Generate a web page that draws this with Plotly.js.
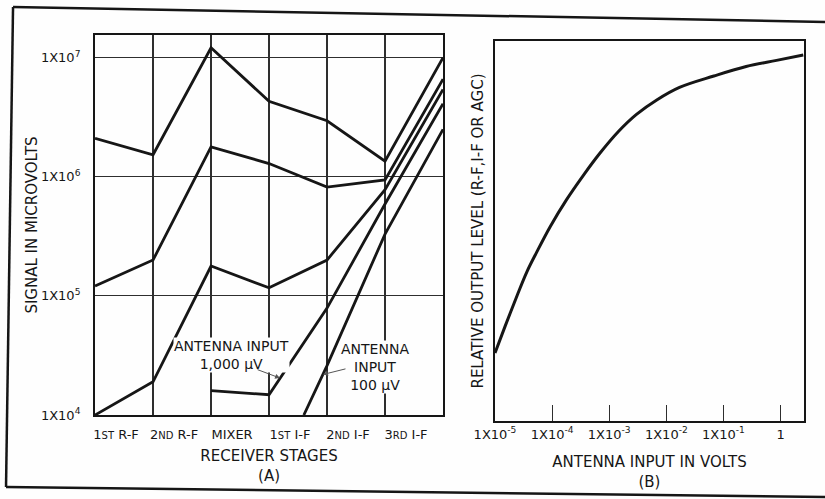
<!DOCTYPE html>
<html>
<head>
<meta charset="utf-8">
<script src="https://cdn.plot.ly/plotly-3.0.1.min.js"></script>
<style>
  html, body { margin: 0; padding: 0; background: #fefefe; }
  #chart { width: 825px; height: 499px; }
</style>
</head>
<body>
<div id="chart"></div>
<script>
// ---- Panel (A): signal level per receiver stage (microvolts) ----
const stageLabels = ['1<span style="font-size:10px">ST</span> R-F', '2<span style="font-size:10px">ND</span> R-F', 'MIXER',
                     '1<span style="font-size:10px">ST</span> I-F', '2<span style="font-size:10px">ND</span> I-F',
                     '3<span style="font-size:10px">RD</span> I-F', ''];
const stageX = [0, 1, 2, 3, 4, 5, 6];

const curveTop    = [2.1e6, 1.53e6, 1.21e7, 4.3e6, 2.95e6, 1.35e6, 1.0e7];
const curveSecond = [1.21e5, 2.0e5, 1.78e6, 1.29e6, 8.2e5, 9.4e5, 6.6e6];
const curveThird  = [1.0e4, 1.9e4, 1.78e5, 1.17e5, 2.0e5, 7.8e5, 5.4e6];

const ant1000X = [2, 3, 4, 5, 6];
const ant1000  = [1.6e4, 1.48e4, 7.9e4, 5.9e5, 4.1e6];

const ant100X = [3.6, 4, 5, 6];
const ant100  = [1.0e4, 2.6e4, 3.3e5, 2.5e6];

const yTickValsA = [1e4, 1e5, 1e6, 1e7];
const yTickTextA = ['1X10<sup>4</sup>', '1X10<sup>5</sup>', '1X10<sup>6</sup>', '1X10<sup>7</sup>'];

// ---- Panel (B): relative output level vs antenna input (volts) ----
const agcInput = [1e-5, 1.5e-5, 2.45e-5, 3.6e-5, 5.4e-5, 9.3e-5, 1.78e-4, 3.5e-4, 6.8e-4,
                  1.45e-3, 3.0e-3, 6.8e-3, 1.7e-2, 6.8e-2, 0.25, 0.85, 2.5];
const agcLevel = [17.9, 24.9, 33.1, 39.2, 44.5, 51.2, 58.2, 64.6, 70.4,
                  76.2, 80.7, 84.5, 87.8, 90.8, 93.3, 94.9, 96.3];

const xTickValsB = [1e-5, 1e-4, 1e-3, 1e-2, 1e-1, 1];
const xTickTextB = ['1X10<sup>-5</sup>', '1X10<sup>-4</sup>', '1X10<sup>-3</sup>',
                    '1X10<sup>-2</sup>', '1X10<sup>-1</sup>', '1'];

const INK = '#161616';
const GRID = '#2e2e2e';
const FONT = 'DejaVu Sans, sans-serif';

function lineTrace(x, y, xa, ya, w) {
  return { type: 'scatter', mode: 'lines', x: x, y: y, xaxis: xa, yaxis: ya,
           line: { color: INK, width: w }, hoverinfo: 'skip', showlegend: false };
}

const traces = [
  lineTrace(stageX, curveTop, 'x', 'y', 2.8),
  lineTrace(stageX, curveSecond, 'x', 'y', 2.8),
  lineTrace(stageX, curveThird, 'x', 'y', 2.8),
  lineTrace(ant1000X, ant1000, 'x', 'y', 2.8),
  lineTrace(ant100X, ant100, 'x', 'y', 2.8),
  Object.assign(lineTrace(agcInput, agcLevel, 'x2', 'y2', 3),
                { line: { color: INK, width: 3, shape: 'spline', smoothing: 1 } })
];

const axisCommon = {
  showline: true, mirror: true, linecolor: INK, linewidth: 2,
  zeroline: false, fixedrange: true,
  tickfont: { family: FONT, size: 13, color: INK }
};

const layout = {
  width: 825, height: 499,
  margin: { l: 0, r: 0, t: 0, b: 0 },
  paper_bgcolor: '#fefefe', plot_bgcolor: '#fefefe',
  showlegend: false,
  font: { family: FONT, size: 14, color: INK },
  xaxis: Object.assign({}, axisCommon, {
    domain: [0.1152, 0.5370], anchor: 'y', range: [0, 6],
    tickvals: stageX, ticktext: stageLabels, ticks: '',
    ticklabelshift: 21, ticklabelstandoff: 6,
    showgrid: true, gridcolor: GRID, gridwidth: 1.2,
    tickangle: 0,
    title: { text: 'RECEIVER STAGES<br>(A)', font: { family: FONT, size: 15, color: INK }, standoff: 10 }
  }),
  yaxis: Object.assign({}, axisCommon, {
    domain: [0.1683, 0.9299], anchor: 'x', type: 'log', range: [4, 7.19],
    tickvals: yTickValsA, ticktext: yTickTextA, ticks: '',
    ticklabelstandoff: 10,
    showgrid: true, gridcolor: GRID, gridwidth: 1.2,
    title: { text: 'SIGNAL IN MICROVOLTS', font: { family: FONT, size: 15, color: INK }, standoff: 0 }
  }),
  xaxis2: Object.assign({}, axisCommon, {
    domain: [0.6, 0.9745], anchor: 'y2', type: 'log', range: [-5, 0.41],
    tickvals: xTickValsB, ticktext: xTickTextB,
    ticks: 'inside', ticklen: 16, tickwidth: 1.2, tickcolor: GRID,
    showgrid: false, tickangle: 0,
    title: { text: 'ANTENNA INPUT IN VOLTS<br>(B)', font: { family: FONT, size: 15, color: INK }, standoff: 16 }
  }),
  yaxis2: Object.assign({}, axisCommon, {
    domain: [0.1563, 0.9178], anchor: 'x2', range: [0, 100],
    showticklabels: false, ticks: '', showgrid: false,
    title: { text: 'RELATIVE OUTPUT LEVEL (R-F,I-F OR AGC)', font: { family: FONT, size: 15, color: INK }, standoff: 6 }
  }),
  annotations: [
    { xref: 'x', yref: 'y', x: 2.36, y: 4.50, text: 'ANTENNA INPUT<br>1,000 µV',
      showarrow: false, bgcolor: '#fefefe', borderpad: 0,
      font: { family: FONT, size: 14, color: INK } },
    { xref: 'x', yref: 'y', x: 4.83, y: 4.40, text: 'ANTENNA<br>INPUT<br>100 µV',
      showarrow: false, bgcolor: '#fefefe', borderpad: 0,
      font: { family: FONT, size: 14, color: INK } },
    { xref: 'x', yref: 'y', x: 3.19, y: 4.31, text: '', showarrow: true,
      ax: -24, ay: -9, arrowhead: 2, arrowsize: 1, arrowwidth: 1, arrowcolor: '#555' },
    { xref: 'x', yref: 'y', x: 3.93, y: 4.34, text: '', showarrow: true,
      ax: 24, ay: -6, arrowhead: 2, arrowsize: 1, arrowwidth: 1, arrowcolor: '#555' }
  ],
  shapes: [
    { type: 'line', xref: 'paper', yref: 'paper', x0: 0.0158, y0: 0.986, x1: 0.0073, y1: 0.024,
      line: { color: INK, width: 2.5 } },
    { type: 'line', xref: 'paper', yref: 'paper', x0: 0.0158, y0: 0.986, x1: 1, y1: 0.956,
      line: { color: INK, width: 2.5 } },
    { type: 'line', xref: 'paper', yref: 'paper', x0: 0.0073, y0: 0.024, x1: 1, y1: 0.004,
      line: { color: INK, width: 2.5 } }
  ]
};

Plotly.newPlot('chart', traces, layout, { displayModeBar: false, staticPlot: true });
</script>
</body>
</html>
